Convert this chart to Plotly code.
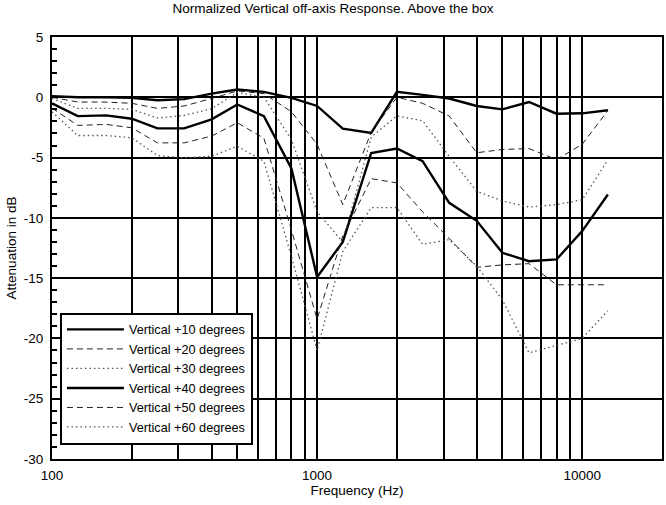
import plotly.graph_objects as go

# 1/3-octave frequencies (Hz)
freqs = [100, 125, 160, 200, 250, 315, 400, 500, 630, 800, 1000, 1250, 1600,
         2000, 2500, 3150, 4000, 5000, 6300, 8000, 10000, 12500]

# Attenuation in dB for each vertical off-axis angle
v10 = [0.1, 0.0, 0.0, -0.05, -0.25, -0.15, 0.3, 0.65, 0.45, -0.05, -0.72, -2.6,
       -2.95, 0.45, 0.2, -0.1, -0.72, -1.0, -0.39, -1.36, -1.33, -1.08]
v20 = [0.0, -0.39, -0.4, -0.5, -0.92, -0.72, -0.1, 0.53, 0.3, -1.2, -3.9, -8.9,
       -2.9, 0.0, -0.5, -1.55, -4.6, -4.33, -4.25, -5.17, -3.9, -1.1]
v30 = [-0.1, -0.92, -0.92, -1.0, -1.72, -1.5, -0.95, 0.4, 0.0, -3.5, -9.5, -12.0,
       -3.3, -1.54, -1.95, -4.9, -7.8, -8.6, -9.1, -8.9, -8.5, -5.2]
v40 = [-0.5, -1.56, -1.5, -1.78, -2.58, -2.58, -1.83, -0.6, -1.56, -5.9, -14.9,
       -12.0, -4.62, -4.25, -5.3, -8.75, -10.25, -12.9, -13.6, -13.45, -11.1, -8.06]
v50 = [-0.9, -2.33, -2.25, -2.53, -3.78, -3.78, -3.22, -2.11, -3.4, -11.0, -18.4,
       -11.5, -6.75, -7.1, -9.5, -11.7, -14.1, -13.9, -13.8, -15.55, -15.55, -15.55]
v60 = [-1.2, -3.17, -3.17, -3.36, -4.83, -5.03, -4.89, -4.06, -5.3, -13.2, -21.0,
       -12.8, -9.15, -9.15, -12.2, -11.8, -14.0, -16.8, -21.2, -20.6, -20.0, -17.7]

series_names = ["Vertical +10 degrees", "Vertical +20 degrees", "Vertical +30 degrees",
                "Vertical +40 degrees", "Vertical +50 degrees", "Vertical +60 degrees"]
series_vals = [v10, v20, v30, v40, v50, v60]

# grid ticks on x: 100..1000 by 100, 1000..10000 by 1000
x_tickvals = [100, 200, 300, 400, 500, 600, 700, 800, 900,
              1000, 2000, 3000, 4000, 5000, 6000, 7000, 8000, 9000, 10000]
x_ticktext = ["100", "", "", "", "", "", "", "", "",
              "1000", "", "", "", "", "", "", "", "", "10000"]
y_tickvals = [5, 0, -5, -10, -15, -20, -25, -30]
y_ticktext = ["5", "0", "-5", "-10", "-15", "-20", "-25", "-30"]

styles = [
    dict(color="black", width=2.4, dash="solid"),
    dict(color="#222222", width=1, dash="6px,4px"),
    dict(color="#555555", width=1.3, dash="1.5px,3px"),
    dict(color="black", width=2.4, dash="solid"),
    dict(color="#222222", width=1, dash="6px,4px"),
    dict(color="#555555", width=1.3, dash="1.5px,3px"),
]

fig = go.Figure()
for name, vals, st in zip(series_names, series_vals, styles):
    fig.add_trace(go.Scatter(x=freqs, y=vals, mode="lines", name=name, line=st))

font_family = "Liberation Sans, Arial, sans-serif"

fig.update_layout(
    width=666, height=505,
    margin=dict(l=52, r=4, t=37, b=46),
    paper_bgcolor="white", plot_bgcolor="white",
    font=dict(family=font_family, color="black", size=13),
    title=dict(text="Normalized Vertical off-axis Response. Above the box",
               x=0.5, xanchor="center", y=0.992, yanchor="top",
               font=dict(size=13.5, family=font_family)),
    showlegend=True,
    legend=dict(x=0.013, y=0.034, xanchor="left", yanchor="bottom",
                bgcolor="white", bordercolor="black", borderwidth=2,
                font=dict(size=12.7, family=font_family),
                itemwidth=57, tracegroupgap=0),
)

fig.update_xaxes(
    type="log", range=[2, 4.30103],
    tickmode="array", tickvals=x_tickvals, ticktext=x_ticktext,
    showgrid=True, gridcolor="black", gridwidth=2,
    showline=True, linecolor="black", linewidth=2, mirror=True,
    ticks="", zeroline=False, automargin=False, ticklabelstandoff=3,
    title=dict(text="Frequency (Hz)", font=dict(size=13.5), standoff=3),
    tickfont=dict(size=13.5),
)
fig.update_yaxes(
    range=[-30, 5],
    tickmode="array", tickvals=y_tickvals, ticktext=y_ticktext,
    showgrid=True, gridcolor="black", gridwidth=2,
    showline=True, linecolor="black", linewidth=2, mirror=True,
    ticks="inside", ticklen=5, tickwidth=2, tickcolor="black",
    minor=dict(dtick=1, ticks="inside", ticklen=5, tickwidth=2,
               tickcolor="black", showgrid=False),
    zeroline=False, automargin=False, ticklabelstandoff=4,
    title=dict(text="Attenuation in dB", font=dict(size=13.5), standoff=4),
    tickfont=dict(size=13.5),
)

fig.write_html("out.html",
               config={"displayModeBar": False},
               post_script="document.body.style.margin='0';document.body.style.overflow='hidden';")
